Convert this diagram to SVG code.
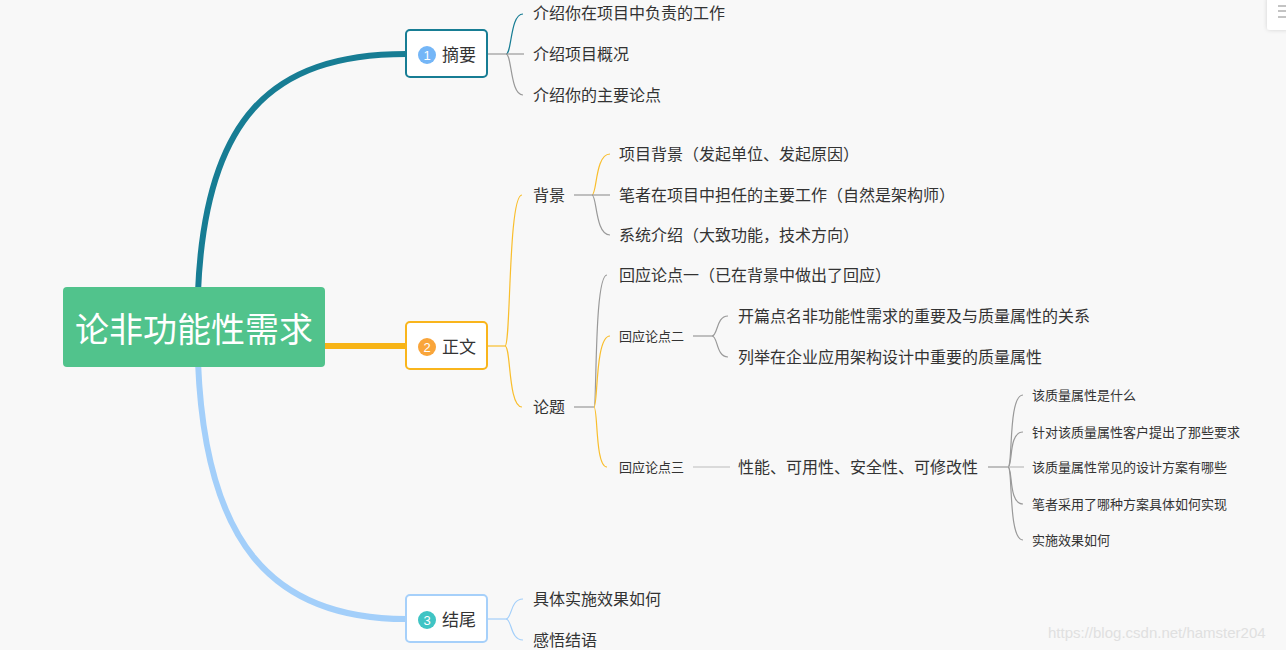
<svg xmlns="http://www.w3.org/2000/svg" width="1286" height="650" viewBox="0 0 1286 650">
<style>
text{font-family:"Noto Sans CJK SC","Noto Sans",sans-serif;fill:#333}
.t16{font-size:16px}
.t13{font-size:13px}
.lbl{font-size:17px}
.num{font-size:13px;fill:#fff;text-anchor:middle;font-family:"Liberation Sans",sans-serif}
.c{fill:none;stroke-width:1.2}
.g{stroke:#999}
.y{stroke:#f9be2c}
.tl{stroke:#177d94}
.lb{stroke:#a3cffa}
.box{fill:#fff;stroke-width:2}
</style>
<defs>
<filter id="sh" x="-50%" y="-50%" width="200%" height="200%"><feDropShadow dx="0" dy="0" stdDeviation="2" flood-color="#000" flood-opacity="0.15"/></filter>
</defs>
<rect width="1286" height="650" fill="#f8f8f8"/>
<g id="connectors">
<path d="M198 292 C205 120 270 54 406 54" fill="none" stroke="#177d94" stroke-width="6"/>
<path d="M325 346 L406 346" fill="none" stroke="#f7b416" stroke-width="6"/>
<path d="M198 362 C205 540 270 619 406 619" fill="none" stroke="#a3cffa" stroke-width="6"/>
<!-- 摘要 children -->
<path class="c g" d="M487 54 L506 54"/>
<path class="c tl" d="M506 54 C512 54 510 14 523 14"/>
<path class="c g" d="M506 54 L524 54"/>
<path class="c g" d="M506 54 C512 54 510 95 523 95"/>
<!-- 正文 children -->
<path class="c y" d="M487 346 L505 346"/>
<path class="c y" d="M505 346 C511 346 508 195 522 195"/>
<path class="c y" d="M505 346 C511 346 508 407 522 407"/>
<!-- 背景 children -->
<path class="c g" d="M574 195 L592 195"/>
<path class="c y" d="M592 195 C597 195 595 154 610 154"/>
<path class="c g" d="M592 195 L610 195"/>
<path class="c g" d="M592 195 C597 195 595 235 610 235"/>
<!-- 论题 children -->
<path class="c g" d="M574 407 L594 407"/>
<path class="c g" d="M594 407 C597 407 594 275 607 275"/>
<path class="c y" d="M594 407 C598 407 595 336 610 336"/>
<path class="c y" d="M594 407 C598 407 595 467 607 467"/>
<!-- 回应论点二 children -->
<path class="c g" d="M693 336 L712 336"/>
<path class="c g" d="M712 336 C718 336 716 316 728 316"/>
<path class="c g" d="M712 336 C718 336 716 357 728 357"/>
<!-- 回应论点三 -->
<path class="c" stroke="#bbb" stroke-width="2" d="M693 467 L730 467"/>
<!-- 性能 children -->
<path class="c" stroke="#999" stroke-width="2" d="M988 467 L1008 467"/>
<path class="c g" d="M1008 467 C1013 467 1008 395 1023 395"/>
<path class="c g" d="M1008 467 C1013 467 1008 432 1023 432"/>
<path class="c" stroke="#bbb" d="M1008 467 L1024 467"/>
<path class="c g" d="M1008 467 C1013 467 1008 504 1023 504"/>
<path class="c g" d="M1008 467 C1013 467 1008 540 1023 540"/>
<!-- 结尾 children -->
<path class="c lb" d="M487 619 L506 619"/>
<path class="c lb" d="M506 619 C512 619 510 599 523 599"/>
<path class="c lb" d="M506 619 C512 619 510 640 523 640"/>
</g>
<g id="root">
<rect x="63" y="287" width="262" height="80" rx="4" fill="#51c38c"/>
<text x="194" y="342" text-anchor="middle" style="font-size:34px;fill:#fff">论非功能性需求</text>
</g>
<g id="n-zhaiyao">
<rect class="box" x="406" y="30" width="81" height="47" rx="4" stroke="#177d94"/>
<circle cx="427" cy="55" r="9" fill="#74b6f7"/>
<text class="num" x="427" y="59.5">1</text>
<text class="lbl" x="442" y="61">摘要</text>
</g>
<g id="n-zhengwen">
<rect class="box" x="406" y="322" width="81" height="47" rx="4" stroke="#f9b51c"/>
<circle cx="427" cy="347" r="9" fill="#f9a53a"/>
<text class="num" x="427" y="351.5">2</text>
<text class="lbl" x="442" y="353">正文</text>
</g>
<g id="n-jiewei">
<rect class="box" x="406" y="595" width="81" height="47" rx="4" stroke="#a6d0fa"/>
<circle cx="427" cy="620" r="9" fill="#3fc4c4"/>
<text class="num" x="427" y="624.5">3</text>
<text class="lbl" x="442" y="626">结尾</text>
</g>
<g id="n-z1"><text class="t16" x="533" y="19">介绍你在项目中负责的工作</text></g>
<g id="n-z2"><text class="t16" x="533" y="60">介绍项目概况</text></g>
<g id="n-z3"><text class="t16" x="533" y="101">介绍你的主要论点</text></g>
<g id="n-beijing"><text class="t16" x="533" y="201">背景</text></g>
<g id="n-lunti"><text class="t16" x="533" y="413">论题</text></g>
<g id="n-b1"><text class="t16" x="619" y="160">项目背景（发起单位、发起原因）</text></g>
<g id="n-b2"><text class="t16" x="619" y="201">笔者在项目中担任的主要工作（自然是架构师）</text></g>
<g id="n-b3"><text class="t16" x="619" y="241">系统介绍（大致功能，技术方向）</text></g>
<g id="n-l1"><text class="t16" x="619" y="281">回应论点一（已在背景中做出了回应）</text></g>
<g id="n-l2"><text class="t13" x="619" y="341">回应论点二</text></g>
<g id="n-l3"><text class="t13" x="619" y="472">回应论点三</text></g>
<g id="n-l2a"><text class="t16" x="738" y="322">开篇点名非功能性需求的重要及与质量属性的关系</text></g>
<g id="n-l2b"><text class="t16" x="738" y="363">列举在企业应用架构设计中重要的质量属性</text></g>
<g id="n-l3a"><text class="t16" x="738" y="473">性能、可用性、安全性、可修改性</text></g>
<g id="n-q1"><text class="t13" x="1032" y="400">该质量属性是什么</text></g>
<g id="n-q2"><text class="t13" x="1032" y="437">针对该质量属性客户提出了那些要求</text></g>
<g id="n-q3"><text class="t13" x="1032" y="472">该质量属性常见的设计方案有哪些</text></g>
<g id="n-q4"><text class="t13" x="1032" y="509">笔者采用了哪种方案具体如何实现</text></g>
<g id="n-q5"><text class="t13" x="1032" y="545">实施效果如何</text></g>
<g id="n-j1"><text class="t16" x="533" y="605">具体实施效果如何</text></g>
<g id="n-j2"><text class="t16" x="533" y="646">感悟结语</text></g>
<text x="1048" y="638" style="font-family:'Liberation Sans',sans-serif;font-size:15px;fill:#e0e0e0">https://blog.csdn.net/hamster204</text>
<g id="panel">
<rect x="1267" y="-4" width="24" height="34" rx="3" fill="#fff" filter="url(#sh)"/>
<path d="M1278 6 H1286 M1278 11 H1286 M1278 17 H1286" stroke="#888" stroke-width="1"/>
</g>
</svg>
